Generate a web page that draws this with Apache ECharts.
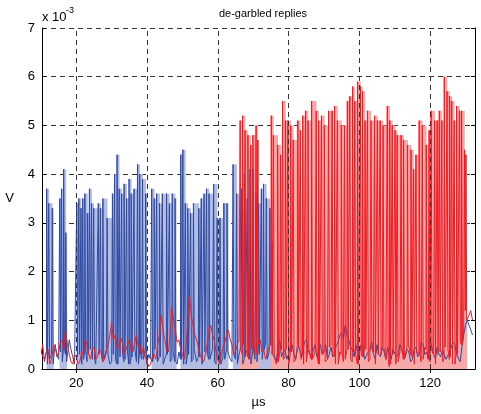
<!DOCTYPE html>
<html>
<head>
<meta charset="utf-8">
<script src="https://cdn.jsdelivr.net/npm/echarts@6.0.0/dist/echarts.min.js"></script>
<style>
  html, body { margin: 0; padding: 0; background: #fff; }
  #chart { width: 481px; height: 414px; }
</style>
</head>
<body>
<div id="chart"></div>
<script>
// de-garbled replies: 两路应答脉冲 (蓝/红), 单位 1e-3 V, 横轴 µs
const T0 = 10, STEP = 0.5     // 噪声基线: 从 10 µs 起, 每 0.5 µs 一个采样
const xTicks = [20, 40, 60, 80, 100, 120]

// 基线噪声 t = 10..132 (每行 10 µs)
const blueNoise = [
  0.4, 0.25, 0.2, 0.35, 0.1, 0.2, 0.3, 0.1, 0.5, 0.3, 0.2, 0.35, 0.15, 0.4, 0.3, 0.15, 0.6, 0.4, 0.25, 0.1,
  0.1, 0.25, 0.3, 0.1, 0.2, 0.35, 0.15, 0.3, 0.4, 0.2, 0.2, 0.1, 0.1, 0.3, 0.35, 0.15, 0.2, 0.4, 0.3, 0.1,
  0.15, 0.3, 0.2, 0.1, 0.1, 0.25, 0.3, 0.15, 0.2, 0.35, 0.1, 0.2, 0.25, 0.4, 0.15, 0.1, 0.3, 0.2, 0.2, 0.35,
  0.1, 0.3, 0.2, 0.15, 0.3, 0.4, 0.15, 0.25, 0.25, 0.1, 0.1, 0.3, 0.3, 0.15, 0.2, 0.35, 0.15, 0.1, 0.35, 0.2,
  0.2, 0.1, 0.1, 0.3, 0.3, 0.15, 0.2, 0.4, 0.15, 0.25, 0.25, 0.1, 0.1, 0.35, 0.3, 0.2, 0.2, 0.4, 0.15, 0.1,
  0.3, 0.15, 0.1, 0.25, 0.2, 0.4, 0.35, 0.2, 0.15, 0.3, 0.2, 0.1, 0.3, 0.45, 0.1, 0.2, 0.25, 0.35, 0.2, 0.1,
  0.35, 0.2, 0.15, 0.4, 0.3, 0.2, 0.4, 0.55, 0.2, 0.35, 0.5, 0.3, 0.3, 0.15, 0.45, 0.6, 0.25, 0.35, 0.4, 0.2,
  0.3, 0.45, 0.5, 0.3, 0.2, 0.4, 0.45, 0.25, 0.35, 0.55, 0.6, 0.4, 0.3, 0.2, 0.4, 0.5, 0.25, 0.35, 0.5, 0.3,
  0.35, 0.5, 0.2, 0.3, 0.45, 0.25, 0.3, 0.5, 0.55, 0.7, 0.75, 0.6, 0.9, 0.7, 0.6, 0.45, 0.4, 0.25, 0.5, 0.35,
  0.3, 0.5, 0.45, 0.2, 0.2, 0.35, 0.4, 0.55, 0.3, 0.2, 0.5, 0.3, 0.25, 0.45, 0.35, 0.2, 0.45, 0.3, 0.2, 0.4,
  0.4, 0.25, 0.3, 0.5, 0.5, 0.3, 0.25, 0.4, 0.35, 0.15, 0.2, 0.4, 0.45, 0.25, 0.3, 0.55, 0.5, 0.3, 0.35, 0.2,
  0.6, 0.45, 0.3, 0.2, 0.45, 0.3, 0.25, 0.4, 0.4, 0.2, 0.2, 0.35, 0.35, 0.55, 0.5, 0.3, 0.3, 0.15, 0.45, 0.7,
  0.9, 1.0, 1.0, 0.8, 0.7
]
const redNoise = [
  0.3, 0.5, 0.15, 0.35, 0.4, 0.1, 0.2, 0.45, 0.5, 0.25, 0.35, 0.55, 0.6, 0.4, 0.75, 0.5, 0.3, 0.15, 0.1, 0.3,
  0.25, 0.1, 0.15, 0.35, 0.3, 0.6, 0.5, 0.3, 0.2, 0.4, 0.45, 0.2, 0.25, 0.4, 0.35, 0.15, 0.2, 0.35, 0.5, 0.7,
  0.95, 0.6, 0.7, 0.45, 0.4, 0.65, 0.55, 0.3, 0.3, 0.5, 0.6, 0.4, 0.35, 0.55, 0.7, 0.45, 0.5, 0.3, 0.45, 0.25,
  0.15, 0.05, 0.1, 0.25, 0.3, 0.2, 0.5, 0.7, 1.1, 0.8, 0.6, 0.4, 0.35, 0.7, 1.25, 1.0, 0.8, 0.55, 0.6, 0.4,
  0.3, 0.2, 0.5, 0.9, 1.5, 1.1, 0.9, 0.7, 0.6, 0.45, 0.3, 0.2, 0.15, 0.3, 0.5, 0.75, 0.9, 0.7, 0.6, 0.35,
  0.2, 0.1, 0.3, 0.45, 0.55, 0.7, 0.8, 0.6, 0.5, 0.3, 0.35, 0.5, 0.6, 0.4, 0.3, 0.5, 0.4, 0.25, 0.2, 0.4,
  0.5, 0.3, 0.3, 0.5, 0.6, 0.35, 0.4, 0.2, 0.2, 0.45, 0.5, 0.3, 0.3, 0.1, 0.15, 0.35, 0.4, 0.2, 0.25, 0.4,
  0.1, 0.3, 0.35, 0.15, 0.2, 0.5, 0.45, 0.2, 0.3, 0.1, 0.15, 0.4, 0.4, 0.2, 0.2, 0.35, 0.3, 0.1, 0.1, 0.3,
  0.35, 0.15, 0.2, 0.45, 0.5, 0.3, 0.25, 0.1, 0.1, 0.35, 0.3, 0.15, 0.2, 0.4, 0.4, 0.2, 0.15, 0.35, 0.3, 0.1,
  0.1, 0.3, 0.25, 0.45, 0.4, 0.15, 0.2, 0.4, 0.35, 0.1, 0.1, 0.3, 0.3, 0.5, 0.45, 0.2, 0.2, 0.05, 0.1, 0.3,
  0.3, 0.1, 0.15, 0.35, 0.4, 0.2, 0.2, 0.45, 0.5, 0.3, 0.25, 0.1, 0.1, 0.35, 0.3, 0.15, 0.2, 0.45, 0.4, 0.2,
  0.15, 0.35, 0.3, 0.1, 0.1, 0.3, 0.35, 0.15, 0.2, 0.45, 0.4, 0.2, 0.25, 0.1, 0.1, 0.35, 0.3, 0.55, 0.5, 0.8,
  1.2, 1.0, 1.1, 1.2, 1.0
]

// 脉冲 [中心 µs, 顶部电平]
const bluePulses = [
  [11.7, 3.7], [12.3, 3.4], [13.3, 3.3], [15.4, 3.5], [15.9, 3.7], [16.5, 4.1], [17.1, 2.8],
  [20.2, 3.4], [20.8, 3.5], [21.4, 3.3], [21.9, 3.5], [22.5, 3.6], [23.2, 3.2], [23.8, 3.7],
  [24.4, 3.4], [25.0, 3.3], [26.3, 3.4], [26.9, 3.3], [27.6, 3.5], [28.8, 3.1], [30.3, 3.6],
  [30.9, 4.0], [31.6, 4.4], [32.2, 3.7], [32.9, 3.6], [33.6, 3.8], [34.3, 3.5], [35.0, 3.9],
  [35.6, 3.6], [36.4, 3.7], [37.4, 4.2], [38.0, 4.0], [38.8, 3.9], [39.7, 3.6],
  [41.4, 3.7], [42.1, 3.5], [42.8, 3.6], [43.6, 3.4], [44.4, 3.6], [45.6, 3.6], [46.4, 3.4],
  [47.2, 3.6], [48.0, 3.5], [49.6, 4.4], [50.2, 4.5], [50.9, 3.4], [51.6, 3.3], [52.4, 3.2],
  [53.2, 3.4], [54.7, 3.3], [55.4, 3.5], [56.2, 3.6], [56.9, 3.7], [57.6, 3.6], [58.9, 3.8],
  [59.9, 3.1], [60.7, 3.1], [61.8, 3.4], [62.7, 3.4], [64.4, 4.2], [65.4, 3.6], [66.9, 3.7],
  [67.6, 4.0], [68.4, 3.5], [69.2, 4.1], [70.0, 4.1], [70.9, 3.6], [71.6, 3.4], [72.4, 3.7],
  [73.0, 3.8], [73.8, 3.5], [74.8, 3.3], [75.4, 2.6]
]
const redPulses = [
  [66.4, 5.1], [67.1, 5.2], [67.8, 4.9], [68.6, 4.8], [69.4, 4.6], [70.0, 4.8], [70.9, 5.0], [71.4, 4.7],
  [75.2, 5.2], [75.8, 4.8], [77.0, 4.6], [77.8, 4.4], [78.4, 5.5], [79.2, 5.1], [79.9, 5.1],
  [80.7, 5.0], [81.4, 4.7], [82.7, 5.1], [83.4, 4.9], [84.1, 5.2], [84.9, 5.3], [85.6, 5.1],
  [86.6, 5.5], [87.9, 5.3], [88.6, 5.1], [89.4, 5.2], [90.2, 5.0], [91.4, 5.3], [92.4, 5.3],
  [93.1, 5.4], [93.9, 5.1], [95.0, 5.0], [95.9, 5.0], [96.7, 5.5], [97.4, 5.6], [98.2, 5.8],
  [98.8, 5.5], [99.6, 5.9], [100.4, 5.8], [101.0, 5.7], [101.7, 5.1], [102.4, 5.3], [103.4, 5.1],
  [104.4, 5.2], [105.2, 5.1], [106.0, 5.1], [106.8, 5.0], [108.0, 5.4], [108.7, 5.1], [109.4, 5.0],
  [110.2, 4.9], [110.8, 4.8], [111.9, 4.8], [112.6, 4.7], [113.7, 4.6], [114.7, 4.5], [115.4, 4.1],
  [116.1, 4.4], [117.0, 5.1], [117.9, 5.0], [119.0, 4.6], [119.8, 4.9], [120.4, 5.3], [121.4, 5.1],
  [122.1, 5.1], [122.7, 5.3], [123.4, 5.1], [124.1, 6.0], [124.9, 5.7], [125.6, 5.6], [126.2, 5.5],
  [126.9, 5.1], [127.6, 5.4], [128.4, 5.3], [129.0, 5.3], [129.8, 4.5], [130.2, 4.4]
]

const EDGE = 0.15, TOP = 0.09  // 脉冲半宽 (µs)
const GROUP_GAP = 1.6          // 相邻脉冲间隔小于它 => 同一组 (画淡色底)

// 基线噪声 + 脉冲 拼成一条折线
function buildTrace(noise, pulses) {
  const pts = []
  const idx = (t) => (t - T0) / STEP
  noise.forEach((v, i) => {
    const t = T0 + i * STEP
    if (!pulses.some(p => Math.abs(t - p[0]) < 0.2)) pts.push([t, v])
  })
  pulses.forEach(([t, top]) => {
    const before = noise[Math.floor(idx(t))]
    const after = noise[Math.ceil(idx(t))]
    pts.push([t - EDGE, before], [t - TOP, top], [t + TOP, top], [t + EDGE, after])
  })
  return pts.sort((a, b) => a[0] - b[0])
}

// 密集脉冲组的淡色底: 每个脉冲一块 [x0, x1, top], 延伸到同组的下一个脉冲
function buildShade(pulses) {
  return pulses.map(([t, top], i) => {
    const next = pulses[i + 1]
    const x1 = next && next[0] - t < GROUP_GAP ? next[0] - EDGE : t + EDGE
    return [t - EDGE, x1, top]
  })
}

function shadeSeries(pulses, fill) {
  return {
    type: 'custom', coordinateSystem: 'cartesian2d', xAxisIndex: 0, yAxisIndex: 0,
    data: buildShade(pulses),
    encode: { x: [0, 1], y: 2 },
    renderItem: (params, api) => {
      const p0 = api.coord([api.value(0), api.value(2)])
      const p1 = api.coord([api.value(1), 0])
      return {
        type: 'rect',
        // 多画 0.6px, 避免相邻块之间的白缝
        shape: { x: p0[0], y: p0[1], width: p1[0] - p0[0] + 0.6, height: p1[1] - p0[1] },
        style: { fill }
      }
    }
  }
}

const FONT = '"Liberation Sans", Arial, Helvetica, sans-serif'
const chart = echarts.init(document.getElementById('chart'))

const gridDash = { type: [5, 4], color: '#333', width: 1 }
const axisCommon = {
  axisLine: { show: true, lineStyle: { color: '#000', width: 1 } },
  axisTick: { show: true, inside: true, length: 4, lineStyle: { color: '#000' } }
}

chart.setOption({
  animation: false,
  title: {
    text: 'de-garbled replies', left: 258, top: 3, textAlign: 'center',
    textStyle: { fontSize: 11, fontWeight: 'normal', color: '#000', fontFamily: FONT }
  },
  grid: { left: 42, right: 6, top: 28, bottom: 37 },
  xAxis: [
    {
      type: 'value', min: 10.3, max: 132.7, ...axisCommon,
      axisTick: { ...axisCommon.axisTick, customValues: xTicks },
      axisLabel: { customValues: xTicks, color: '#000', fontSize: 13, margin: 8, fontFamily: FONT },
      splitLine: { show: false },
      name: 'µs', nameLocation: 'middle', nameGap: 27,
      nameTextStyle: { color: '#000', fontSize: 13, fontFamily: FONT }
    },
    {
      type: 'value', position: 'top', min: 10.3, max: 132.7, ...axisCommon,
      axisTick: { ...axisCommon.axisTick, customValues: xTicks },
      axisLabel: { show: false }, splitLine: { show: false }
    }
  ],
  yAxis: [
    {
      type: 'value', min: 0, max: 7, interval: 1, ...axisCommon,
      axisLabel: { color: '#000', fontSize: 13, margin: 7, fontFamily: FONT },
      splitLine: { show: true, lineStyle: gridDash },
      name: 'V', nameLocation: 'middle', nameGap: 28, nameRotate: 0,
      nameTextStyle: { color: '#000', fontSize: 13, fontFamily: FONT }
    },
    {
      type: 'value', position: 'right', min: 0, max: 7, interval: 1, ...axisCommon,
      axisLabel: { show: false }, splitLine: { show: false }
    }
  ],
  graphic: [
    { type: 'text', left: 42, top: 11, style: { text: 'x 10', fontSize: 13, fill: '#000', fontFamily: FONT } },
    { type: 'text', left: 66, top: 6, style: { text: '-3', fontSize: 9, fill: '#000', fontFamily: FONT } }
  ],
  series: [
    shadeSeries(bluePulses, '#b3bde2'),
    shadeSeries(redPulses, '#f6a9a9'),
    {
      name: 'blue', type: 'line', symbol: 'none',
      data: buildTrace(blueNoise, bluePulses),
      lineStyle: { color: '#2f4aa3', width: 1 },
      markLine: {
        silent: true, symbol: 'none', label: { show: false },
        lineStyle: gridDash,
        data: xTicks.map(v => ({ xAxis: v }))
      }
    },
    {
      name: 'red', type: 'line', symbol: 'none',
      data: buildTrace(redNoise, redPulses),
      lineStyle: { color: '#ec1c24', width: 1 }
    }
  ]
})
</script>
</body>
</html>
